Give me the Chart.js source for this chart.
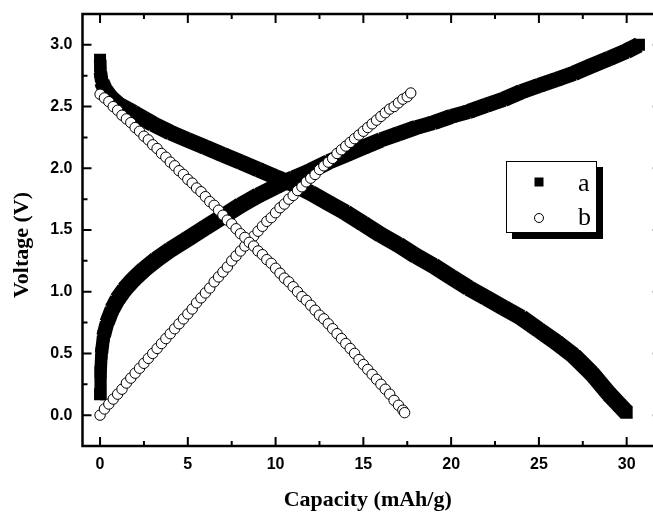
<!DOCTYPE html>
<html>
<head>
<meta charset="utf-8">
<script src="https://cdn.jsdelivr.net/npm/chart.js@4.4.0/dist/chart.umd.min.js"></script>
<style>
  html, body { margin: 0; padding: 0; background: #fff; overflow: hidden; }
  #wrap { width: 653px; height: 514px; }
</style>
</head>
<body>
<div id="wrap"><canvas id="chart" width="653" height="514"></canvas></div>
<script>
// series a (filled squares): charge and discharge branch
const aChargeCap = [0, 0.03, 0.08, 0.2, 0.4, 0.7, 1.0, 1.4, 1.9, 2.5, 3.2, 4, 5, 6, 7, 8, 9, 10, 11, 12, 13, 14, 15, 16, 17, 18, 19, 20, 21, 22, 23, 24, 25, 26, 27, 28, 29, 30, 30.7];
const aChargeVolt = [0.17, 0.35, 0.5, 0.64, 0.75, 0.86, 0.94, 1.02, 1.1, 1.18, 1.26, 1.34, 1.43, 1.52, 1.61, 1.70, 1.78, 1.85, 1.92, 1.98, 2.05, 2.11, 2.17, 2.23, 2.28, 2.33, 2.37, 2.42, 2.46, 2.51, 2.56, 2.62, 2.67, 2.72, 2.77, 2.83, 2.89, 2.95, 3.0];
const aDischCap = [0, 0.02, 0.1, 0.3, 0.6, 1.0, 1.9, 3, 4, 5, 6, 7, 8, 9, 10, 11, 12, 13, 14, 15, 16, 17, 18, 19, 20, 21, 22, 23, 24, 25, 26, 27, 28, 29, 29.6, 30];
const aDischVolt = [2.88, 2.78, 2.7, 2.63, 2.57, 2.52, 2.45, 2.36, 2.29, 2.23, 2.17, 2.11, 2.05, 1.99, 1.93, 1.87, 1.80, 1.72, 1.64, 1.55, 1.46, 1.38, 1.29, 1.21, 1.12, 1.03, 0.95, 0.87, 0.79, 0.69, 0.59, 0.48, 0.34, 0.17, 0.08, 0.02];

// series b (open circles)
const bChargeCap = [0, 0.25, 0.5, 0.75, 1, 1.25, 1.5, 1.75, 2, 2.25, 2.5, 2.75, 3, 3.25, 3.5, 3.75, 4, 4.25, 4.5, 4.75, 5, 5.25, 5.5, 5.75, 6, 6.25, 6.5, 6.75, 7, 7.25, 7.5, 7.75, 8, 8.25, 8.5, 8.75, 9, 9.25, 9.5, 9.75, 10, 10.25, 10.5, 10.75, 11, 11.25, 11.5, 11.75, 12, 12.25, 12.5, 12.75, 13, 13.25, 13.5, 13.75, 14, 14.25, 14.5, 14.75, 15, 15.25, 15.5, 15.75, 16, 16.25, 16.5, 16.75, 17, 17.25, 17.5, 17.7];
const bChargeVolt = [0.00, 0.05, 0.09, 0.13, 0.17, 0.21, 0.26, 0.30, 0.34, 0.38, 0.42, 0.46, 0.50, 0.54, 0.58, 0.62, 0.66, 0.70, 0.74, 0.78, 0.82, 0.86, 0.91, 0.95, 0.99, 1.03, 1.08, 1.12, 1.16, 1.20, 1.25, 1.29, 1.33, 1.37, 1.41, 1.45, 1.49, 1.53, 1.57, 1.60, 1.64, 1.68, 1.71, 1.75, 1.78, 1.82, 1.85, 1.89, 1.92, 1.95, 1.99, 2.02, 2.05, 2.08, 2.12, 2.15, 2.18, 2.21, 2.24, 2.27, 2.30, 2.33, 2.36, 2.39, 2.42, 2.45, 2.48, 2.50, 2.53, 2.56, 2.58, 2.61];
const bDischCap = [0, 0.25, 0.5, 0.75, 1, 1.25, 1.5, 1.75, 2, 2.25, 2.5, 2.75, 3, 3.25, 3.5, 3.75, 4, 4.25, 4.5, 4.75, 5, 5.25, 5.5, 5.75, 6, 6.25, 6.5, 6.75, 7, 7.25, 7.5, 7.75, 8, 8.25, 8.5, 8.75, 9, 9.25, 9.5, 9.75, 10, 10.25, 10.5, 10.75, 11, 11.25, 11.5, 11.75, 12, 12.25, 12.5, 12.75, 13, 13.25, 13.5, 13.75, 14, 14.25, 14.5, 14.75, 15, 15.25, 15.5, 15.75, 16, 16.25, 16.5, 16.75, 17, 17.25, 17.35];
const bDischVolt = [2.60, 2.57, 2.54, 2.50, 2.47, 2.43, 2.40, 2.37, 2.33, 2.30, 2.26, 2.23, 2.19, 2.16, 2.12, 2.09, 2.05, 2.02, 1.98, 1.95, 1.91, 1.88, 1.84, 1.81, 1.77, 1.73, 1.70, 1.66, 1.62, 1.58, 1.55, 1.51, 1.47, 1.44, 1.40, 1.37, 1.33, 1.30, 1.26, 1.23, 1.19, 1.15, 1.11, 1.08, 1.04, 1.00, 0.96, 0.93, 0.89, 0.85, 0.81, 0.78, 0.74, 0.70, 0.66, 0.62, 0.58, 0.54, 0.50, 0.45, 0.41, 0.37, 0.33, 0.29, 0.25, 0.21, 0.17, 0.12, 0.08, 0.04, 0.02];

const seriesNames = ['a', 'b'];
const xTicks = [0, 5, 10, 15, 20, 25, 30];
const yTicks = [0, 0.5, 1.0, 1.5, 2.0, 2.5, 3.0];
const xTitle = 'Capacity (mAh/g)';
const yTitle = 'Voltage (V)';
const xFrameRight = 32; // the right edge of the original frame lies past the picture

const SQ = 12; // side of the square markers, px

function pts(xs, ys) {
    return xs.map((x, i) => ({ x: x, y: ys[i] }));
}

// thickness of the band a square leaves when it is dragged along a segment
function sweep(ctx) {
    const dx = Math.abs(ctx.p1.x - ctx.p0.x);
    const dy = Math.abs(ctx.p1.y - ctx.p0.y);
    const len = Math.hypot(dx, dy) || 1;
    return SQ * (dx + dy) / len;
}

const squares = {
    showLine: true,
    borderColor: '#000',
    backgroundColor: '#000',
    pointStyle: 'rect',
    pointRadius: SQ / Math.SQRT2,
    pointBorderWidth: 0,
    borderCapStyle: 'butt',
    segment: { borderWidth: sweep }
};
const circles = {
    showLine: false,
    borderColor: '#000',
    backgroundColor: '#fff',
    pointStyle: 'circle',
    pointRadius: 5.2,
    pointBorderWidth: 1
};

// frame with inward ticks, custom legend box and the rotated y title
const frame = {
    id: 'frame',
    afterDraw(chart) {
        const { ctx, chartArea: a, scales: { x, y } } = chart;
        const right = x.getPixelForValue(xFrameRight);
        ctx.save();
        ctx.strokeStyle = '#000';
        ctx.lineWidth = 2.5;
        ctx.strokeRect(a.left, a.top, right - a.left, a.bottom - a.top);

        ctx.lineWidth = 2;
        ctx.beginPath();
        const xv = x.ticks.map(t => t.value);
        xv.forEach((v, i) => {
            const marks = [[v, 9]];
            if (i < xv.length - 1) marks.push([(v + xv[i + 1]) / 2, 5]);
            marks.forEach(([val, len]) => {
                const px = x.getPixelForValue(val);
                ctx.moveTo(px, a.bottom); ctx.lineTo(px, a.bottom - len);
                ctx.moveTo(px, a.top); ctx.lineTo(px, a.top + len);
            });
        });
        const yv = y.ticks.map(t => t.value);
        yv.forEach((v, i) => {
            const marks = [[v, 9]];
            if (i < yv.length - 1) marks.push([(v + yv[i + 1]) / 2, 5]);
            marks.forEach(([val, len]) => {
                const py = y.getPixelForValue(val);
                ctx.moveTo(a.left, py); ctx.lineTo(a.left + len, py);
                ctx.moveTo(right, py); ctx.lineTo(right - len, py);
            });
        });
        ctx.stroke();

        // legend with drop shadow
        ctx.fillStyle = '#000';
        ctx.fillRect(512, 167, 91, 72);
        ctx.fillStyle = '#fff';
        ctx.fillRect(506, 161, 91, 72);
        ctx.lineWidth = 1;
        ctx.strokeRect(506.5, 161.5, 90, 71);
        ctx.fillStyle = '#000';
        ctx.fillRect(534.5, 177.5, 9, 9);
        ctx.beginPath();
        ctx.arc(539, 218, 4.5, 0, Math.PI * 2);
        ctx.fillStyle = '#fff';
        ctx.fill();
        ctx.stroke();
        ctx.fillStyle = '#000';
        ctx.font = '26px "Liberation Serif", "Times New Roman", serif';
        ctx.textAlign = 'left';
        ctx.textBaseline = 'alphabetic';
        ctx.fillText(seriesNames[0], 578, 191);
        ctx.fillText(seriesNames[1], 578, 225);

        // y axis title
        ctx.translate(22, 245);
        ctx.rotate(-Math.PI / 2);
        ctx.textAlign = 'center';
        ctx.textBaseline = 'middle';
        ctx.font = 'bold 22px "Liberation Serif", "Times New Roman", serif';
        ctx.fillText(yTitle, 0, 0);
        ctx.restore();
    }
};

new Chart(document.getElementById('chart'), {
    type: 'scatter',
    data: {
        datasets: [
            Object.assign({ label: 'b discharge', data: pts(bDischCap, bDischVolt) }, circles),
            Object.assign({ label: 'b charge', data: pts(bChargeCap, bChargeVolt) }, circles),
            Object.assign({ label: 'a discharge', data: pts(aDischCap, aDischVolt) }, squares),
            Object.assign({ label: 'a charge', data: pts(aChargeCap, aChargeVolt) }, squares)
        ]
    },
    options: {
        responsive: false,
        animation: false,
        events: [],
        layout: { autoPadding: false, padding: { top: 14, right: 0, left: 0, bottom: 0 } },
        plugins: { legend: { display: false }, tooltip: { enabled: false } },
        scales: {
            x: {
                type: 'linear',
                min: -1,
                max: 31.5,
                grid: { display: false, drawTicks: false },
                border: { display: false },
                ticks: {
                    padding: 9,
                    color: '#000',
                    font: { family: '"Liberation Sans", Arial, sans-serif', size: 16, weight: 'bold' }
                },
                title: {
                    display: true,
                    text: xTitle,
                    color: '#000',
                    padding: { top: 0, bottom: 0 },
                    font: { family: '"Liberation Serif", "Times New Roman", serif', size: 22, weight: 'bold' }
                },
                afterBuildTicks(scale) { scale.ticks = xTicks.map(v => ({ value: v })); },
                afterFit(scale) { scale.height = 68; scale.paddingLeft = 0; scale.paddingRight = 0; }
            },
            y: {
                min: -0.25,
                max: 3.25,
                grid: { display: false, drawTicks: false },
                border: { display: false },
                ticks: {
                    padding: 10,
                    color: '#000',
                    font: { family: '"Liberation Sans", Arial, sans-serif', size: 16, weight: 'bold' },
                    callback: v => v.toFixed(1)
                },
                afterBuildTicks(scale) { scale.ticks = yTicks.map(v => ({ value: v })); },
                afterFit(scale) { scale.width = 82.5; scale.paddingTop = 0; scale.paddingBottom = 0; }
            }
        }
    },
    plugins: [frame]
});
</script>
</body>
</html>
